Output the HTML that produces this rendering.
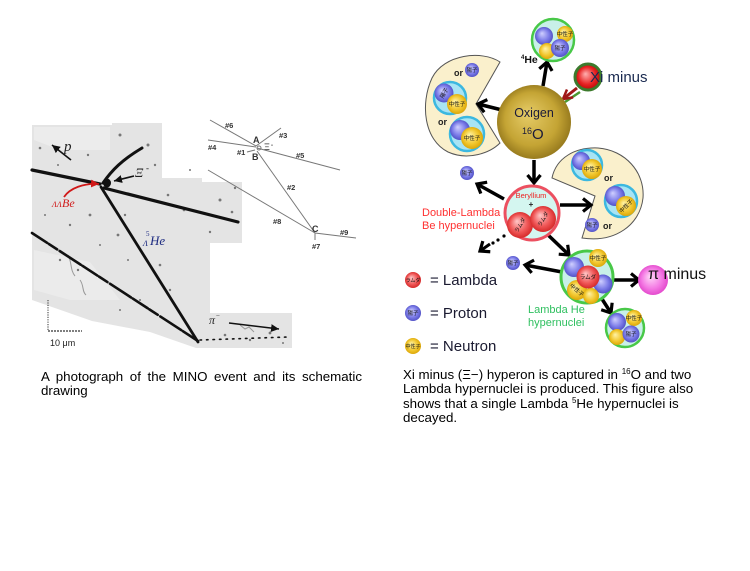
<!DOCTYPE html>
<html><head><meta charset="utf-8">
<style>
html,body{margin:0;padding:0;background:#fff;}
body{width:750px;height:571px;position:relative;overflow:hidden;font-family:"Liberation Sans",Arial,sans-serif;}
svg{position:absolute;left:0;top:0;}
.cap{position:absolute;font-size:13.33px;line-height:14.3px;color:#000;}
.cap sup{font-size:8px;line-height:0;vertical-align:5px;}
</style></head>
<body>
<svg width="750" height="571" viewBox="0 0 750 571" xmlns="http://www.w3.org/2000/svg">
<defs>
<radialGradient id="gP" cx="50%" cy="50%" r="55%" fx="38%" fy="35%"><stop offset="0" stop-color="#d0d0ff"/><stop offset="0.6" stop-color="#7c7ce8"/><stop offset="1" stop-color="#4a4ac0"/></radialGradient>
<radialGradient id="gN" cx="50%" cy="50%" r="55%" fx="38%" fy="35%"><stop offset="0" stop-color="#fff3a8"/><stop offset="0.6" stop-color="#f2c830"/><stop offset="1" stop-color="#d8a000"/></radialGradient>
<radialGradient id="gL" cx="50%" cy="50%" r="55%" fx="38%" fy="35%"><stop offset="0" stop-color="#ffc8c8"/><stop offset="0.6" stop-color="#f05858"/><stop offset="1" stop-color="#d02020"/></radialGradient>
<radialGradient id="gO" cx="50%" cy="50%" r="55%" fx="40%" fy="38%"><stop offset="0" stop-color="#e6cc68"/><stop offset="0.65" stop-color="#c4a434"/><stop offset="1" stop-color="#8c7018"/></radialGradient>
<radialGradient id="gPi" cx="50%" cy="50%" r="55%" fx="40%" fy="38%"><stop offset="0" stop-color="#ffd8f8"/><stop offset="0.6" stop-color="#f47ae4"/><stop offset="1" stop-color="#e040c8"/></radialGradient>
<radialGradient id="gXi" cx="50%" cy="50%" r="55%" fx="40%" fy="38%"><stop offset="0" stop-color="#ffb0b0"/><stop offset="0.6" stop-color="#e82424"/><stop offset="1" stop-color="#b00000"/></radialGradient>
<marker id="ah" markerUnits="userSpaceOnUse" markerWidth="16" markerHeight="16" refX="11" refY="8" orient="auto"><path d="M3,1.5 L11,8 L3,14.5" fill="none" stroke="#000" stroke-width="3.2"/></marker>
<marker id="th" markerUnits="userSpaceOnUse" markerWidth="10" markerHeight="8" refX="8" refY="4" orient="auto"><path d="M0,0 L8,4 L0,8 Z" fill="#111"/></marker>
<marker id="rh" markerUnits="userSpaceOnUse" markerWidth="10" markerHeight="8" refX="8" refY="4" orient="auto"><path d="M0,0 L8,4 L0,8 Z" fill="#d01818"/></marker>
<marker id="xh" markerUnits="userSpaceOnUse" markerWidth="12" markerHeight="12" refX="10" refY="6" orient="auto"><path d="M1,1 L10,6 L1,11" fill="none" stroke="#a01818" stroke-width="2.5"/></marker>
</defs>

<!-- ============ PHOTO ============ -->
<g>
<path d="M32,125 L112,125 L112,123 L162,123 L162,178 L202,178 L202,182 L242,182 L242,243 L210,243 L210,313 L292,313 L292,348 L196,348 L150,332 L92,321 L32,300 Z" fill="#e4e4e4"/>
<path d="M34,127 L110,127 L110,150 L60,150 L34,140 Z" fill="#ececec"/>
<path d="M34,250 L90,262 L120,300 L70,300 L34,290 Z" fill="#ebebeb"/>
<g fill="#777">
<circle cx="40" cy="148" r="1.3"/><circle cx="58" cy="165" r="1"/><circle cx="88" cy="155" r="1.2"/><circle cx="120" cy="135" r="1.5"/><circle cx="148" cy="145" r="1.5"/><circle cx="155" cy="165" r="1.2"/><circle cx="168" cy="195" r="1.3"/><circle cx="150" cy="200" r="1"/><circle cx="184" cy="210" r="1.3"/><circle cx="220" cy="200" r="1.5"/><circle cx="235" cy="188" r="1.2"/><circle cx="232" cy="212" r="1.3"/><circle cx="90" cy="215" r="1.4"/><circle cx="70" cy="225" r="1.2"/><circle cx="45" cy="215" r="1"/><circle cx="125" cy="215" r="1.2"/><circle cx="118" cy="235" r="1.4"/><circle cx="100" cy="245" r="1"/><circle cx="60" cy="260" r="1.2"/><circle cx="78" cy="270" r="1.2"/><circle cx="128" cy="260" r="1"/><circle cx="160" cy="265" r="1.3"/><circle cx="170" cy="290" r="1.2"/><circle cx="140" cy="300" r="1"/><circle cx="120" cy="310" r="1"/><circle cx="225" cy="335" r="1.3"/><circle cx="250" cy="340" r="1.2"/><circle cx="270" cy="333" r="1.4"/><circle cx="283" cy="343" r="1"/><circle cx="190" cy="170" r="1"/><circle cx="210" cy="232" r="1.2"/>
</g>
<g fill="none" stroke="#999" stroke-width="1">
<path d="M68,255 C72,262 70,270 75,276"/><path d="M80,280 C84,285 82,292 86,295"/><path d="M240,325 l5,4 l4,-2 l5,5"/>
</g>
<!-- tracks -->
<g fill="none" stroke="#111" stroke-linecap="round">
<path d="M32,170 L100,184" stroke-width="3.2"/>
<path d="M104,188 L238,222" stroke-width="3.2"/>
<path d="M103,183 C112,170 122,160 142,148" stroke-width="3"/>
<path d="M101,187 L198,342" stroke-width="2.8"/>
<path d="M32,233 L198,341" stroke-width="2.6" stroke-dasharray="18,2,10,3,25,2"/>
<path d="M200,340 L288,337" stroke-width="1.6" stroke-dasharray="1.5,5"/>
</g>
<ellipse cx="107" cy="183" rx="4" ry="4.5" fill="#111"/>
<line x1="71" y1="160" x2="52" y2="145" stroke="#111" stroke-width="1.6" marker-end="url(#th)"/>
<line x1="134" y1="176" x2="114" y2="181" stroke="#111" stroke-width="1.6" marker-end="url(#th)"/>
<line x1="229" y1="323" x2="279" y2="329" stroke="#111" stroke-width="1.6" marker-end="url(#th)"/>
<path d="M64,197 C70,188 84,183 99,184" fill="none" stroke="#d01818" stroke-width="1.8" marker-end="url(#rh)"/>
<text x="64" y="151" font-family="Liberation Serif,serif" font-style="italic" font-size="15" fill="#222">p</text>
<text x="135" y="177" font-family="Liberation Serif,serif" font-style="italic" font-size="13" fill="#222">Ξ</text>
<text x="146" y="171" font-family="Liberation Serif,serif" font-size="9" fill="#222">-</text>
<text x="52" y="207" font-family="Liberation Serif,serif" font-style="italic" font-size="8" fill="#d01818">ΛΛ</text>
<text x="62" y="207" font-family="Liberation Serif,serif" font-style="italic" font-size="12" fill="#d01818">Be</text>
<text x="146" y="236" font-family="Liberation Serif,serif" font-size="7" fill="#1c2a80">5</text>
<text x="143" y="246" font-family="Liberation Serif,serif" font-style="italic" font-size="8" fill="#1c2a80">Λ</text>
<text x="150" y="245" font-family="Liberation Serif,serif" font-style="italic" font-size="13" fill="#1c2a80">He</text>
<text x="209" y="324" font-family="Liberation Serif,serif" font-style="italic" font-size="12" fill="#222">π</text>
<text x="216" y="318" font-family="Liberation Serif,serif" font-size="7" fill="#222">−</text>
<!-- scale bar -->
<line x1="48" y1="300" x2="48" y2="331" stroke="#333" stroke-width="1" stroke-dasharray="1.2,1.2"/>
<line x1="48" y1="331" x2="82" y2="331" stroke="#333" stroke-width="1.2" stroke-dasharray="2,1"/>
<text x="50" y="346" font-size="9" font-family="Liberation Sans,sans-serif" fill="#222">10 μm</text>
</g>

<!-- ============ SCHEMATIC ============ -->
<g stroke="#777" stroke-width="1" fill="none">
<line x1="210" y1="120" x2="256" y2="146"/>
<line x1="208" y1="140" x2="256" y2="147"/>
<line x1="256" y1="146" x2="281" y2="128"/>
<line x1="257" y1="148" x2="340" y2="170"/>
<line x1="247" y1="152" x2="255" y2="150"/>
<line x1="257" y1="151" x2="315" y2="233"/>
<line x1="208" y1="170" x2="315" y2="233"/>
<line x1="315" y1="233" x2="356" y2="238"/>
<line x1="315" y1="233" x2="315" y2="240"/>
<circle cx="259" cy="148" r="2"/>
</g>
<g font-family="Liberation Sans,sans-serif" font-size="7.5" font-weight="bold" fill="#333">
<text x="225" y="128">#6</text>
<text x="208" y="150">#4</text>
<text x="253" y="143" font-size="9">A</text>
<text x="279" y="138">#3</text>
<text x="237" y="155">#1</text>
<text x="252" y="160" font-size="9">B</text>
<text x="264" y="150" font-weight="normal" font-size="9">Ξ</text>
<text x="271" y="147" font-size="6">-</text>
<text x="296" y="158">#5</text>
<text x="287" y="190">#2</text>
<text x="273" y="224">#8</text>
<text x="312" y="232" font-size="9">C</text>
<text x="340" y="235">#9</text>
<text x="312" y="249">#7</text>
</g>

<!-- ============ RIGHT DIAGRAM ============ -->
<!-- pac-men -->
<path d="M476,104 L500,62 C482,50 444,54 432,78 C420,104 424,140 448,152 C468,161 490,153 500,143 Z" fill="#faf0cc" stroke="#555" stroke-width="1"/>
<path d="M595,196 L552,178 C556,158 575,147 598,148 C625,150 645,172 643,198 C640,225 615,243 582,238 Z" fill="#faf0cc" stroke="#555" stroke-width="1"/>

<!-- arrows -->
<g stroke="#000" stroke-width="3.5" fill="none" marker-end="url(#ah)">
<line x1="543" y1="86" x2="547" y2="62"/>
<line x1="502" y1="110" x2="478" y2="104"/>
<line x1="534" y1="160" x2="534" y2="183"/>
<line x1="504" y1="199" x2="477" y2="184"/>
<line x1="560" y1="205" x2="591" y2="205"/>
<line x1="547" y1="234" x2="569" y2="255"/>
<line x1="562" y1="272" x2="525" y2="265"/>
<line x1="614" y1="280" x2="639" y2="280"/>
<line x1="602" y1="299" x2="611" y2="313"/>
<line x1="490" y1="244" x2="480" y2="251" stroke-width="3"/>
</g>
<g fill="#000"><circle cx="504" cy="236" r="1.6"/><circle cx="498" cy="240" r="1.6"/><circle cx="493" cy="243" r="1.6"/></g>
<!-- xi arrow -->
<line x1="580" y1="92" x2="565" y2="102" stroke="#4a9a30" stroke-width="2.5"/>
<line x1="577" y1="88" x2="563" y2="99" stroke="#a01818" stroke-width="3" marker-end="url(#xh)"/>

<!-- Oxygen -->
<circle cx="534" cy="122" r="37" fill="url(#gO)"/>
<text x="534" y="117" text-anchor="middle" font-size="12.5" fill="#1a1a3a">Oxigen</text>
<text x="522" y="134" font-size="9" fill="#1a1a3a">16</text>
<text x="532" y="139" font-size="15" fill="#1a1a3a">O</text>

<!-- Xi -->
<circle cx="588" cy="77" r="13" fill="url(#gXi)" stroke="#3c7a2c" stroke-width="3"/>
<text x="590" y="82" font-size="15" fill="#1a2a50">Xi minus</text>

<!-- He top -->
<circle cx="553" cy="40" r="21" fill="#c8f0e8" stroke="#48c848" stroke-width="2.5"/>
<circle cx="544" cy="36" r="9" fill="url(#gP)"/>
<circle cx="565" cy="34" r="8" fill="url(#gN)"/>
<circle cx="547" cy="51" r="8" fill="url(#gN)"/>
<circle cx="560" cy="48" r="9" fill="url(#gP)"/>
<text x="521" y="63" font-size="10.5" font-weight="bold" fill="#111"><tspan font-size="6" dy="-4">4</tspan><tspan dy="4">He</tspan></text>

<!-- left pacman contents -->
<g font-size="9" font-weight="bold" fill="#222"><text x="454" y="76">or</text><text x="438" y="125">or</text></g>
<circle cx="472" cy="70" r="7" fill="url(#gP)"/>
<circle cx="450" cy="98" r="16" fill="#a8e4f4" stroke="#3cb8e0" stroke-width="2.5"/>
<circle cx="444" cy="93" r="9.5" fill="url(#gP)"/>
<circle cx="457" cy="104" r="10" fill="url(#gN)"/>
<circle cx="467" cy="134" r="17" fill="#a8e4f4" stroke="#3cb8e0" stroke-width="2.5"/>
<circle cx="460" cy="130" r="10" fill="url(#gP)"/>
<circle cx="472" cy="138" r="11" fill="url(#gN)"/>

<!-- right pacman contents -->
<circle cx="587" cy="165" r="15" fill="#a8e4f4" stroke="#3cb8e0" stroke-width="2.5"/>
<circle cx="581" cy="161" r="9" fill="url(#gP)"/>
<circle cx="592" cy="169" r="10" fill="url(#gN)"/>
<circle cx="621" cy="201" r="16" fill="#a8e4f4" stroke="#3cb8e0" stroke-width="2.5"/>
<circle cx="615" cy="196" r="10" fill="url(#gP)"/>
<circle cx="626" cy="206" r="10" fill="url(#gN)"/>
<circle cx="592" cy="225" r="7" fill="url(#gP)"/>
<g font-size="9" font-weight="bold" fill="#222"><text x="604" y="181">or</text><text x="603" y="229">or</text></g>

<!-- Be -->
<circle cx="532" cy="213" r="27" fill="#d4f6f0" stroke="#ec5060" stroke-width="3"/>
<circle cx="520" cy="225" r="13" fill="url(#gL)"/>
<circle cx="543" cy="219" r="13" fill="url(#gL)"/>
<text x="531" y="198" text-anchor="middle" font-size="7.5" fill="#ee2020">Beryllium</text>
<text x="531" y="207" text-anchor="middle" font-size="8" font-weight="bold" fill="#222">+</text>
<g font-size="11" fill="#ff3030"><text x="422" y="216">Double-Lambda</text><text x="422" y="229">Be hypernuclei</text></g>

<!-- protons -->
<circle cx="467" cy="173" r="7" fill="url(#gP)"/>
<circle cx="513" cy="263" r="7" fill="url(#gP)"/>

<!-- Lambda He -->
<circle cx="587" cy="277" r="26" fill="#c8f0e8" stroke="#48c848" stroke-width="3"/>
<circle cx="598" cy="258" r="9" fill="url(#gN)"/>
<circle cx="574" cy="267" r="10" fill="url(#gP)"/>
<circle cx="603" cy="284" r="9.5" fill="url(#gP)"/>
<circle cx="577" cy="290" r="10" fill="url(#gN)"/>
<circle cx="591" cy="296" r="8" fill="url(#gN)"/>
<circle cx="588" cy="277" r="11.5" fill="url(#gL)"/>
<g font-size="11" fill="#30c060"><text x="528" y="313">Lambda He</text><text x="528" y="326">hypernuclei</text></g>

<!-- pi minus -->
<circle cx="653" cy="280" r="15" fill="url(#gPi)"/>
<text x="648" y="279" font-size="16" fill="#111">π minus</text>

<!-- small He -->
<circle cx="625" cy="328" r="19" fill="#c8f0e8" stroke="#48c848" stroke-width="2.5"/>
<circle cx="617" cy="322" r="9" fill="url(#gP)"/>
<circle cx="634" cy="318" r="8" fill="url(#gN)"/>
<circle cx="617" cy="337" r="8" fill="url(#gN)"/>
<circle cx="631" cy="334" r="8.5" fill="url(#gP)"/>

<!-- legend -->
<circle cx="413" cy="280" r="8" fill="url(#gL)"/>
<circle cx="413" cy="313" r="8" fill="url(#gP)"/>
<circle cx="413" cy="346" r="8" fill="url(#gN)"/>
<g font-size="15" fill="#1a1a30"><text x="430" y="285">= Lambda</text><text x="430" y="318">= Proton</text><text x="430" y="351">= Neutron</text></g>

<!-- Japanese labels in balls -->
<g font-family="Noto Sans CJK JP,sans-serif" font-size="5.5" fill="#111" text-anchor="middle">
<text x="472" y="72">陽子</text>
<text x="467" y="175">陽子</text>
<text x="513" y="265">陽子</text>
<text x="592" y="227">陽子</text>
<text x="560" y="50">陽子</text>
<text x="444" y="95" transform="rotate(-60 444 93)">陽子</text>
<text x="457" y="106">中性子</text>
<text x="472" y="140">中性子</text>
<text x="592" y="171">中性子</text>
<text x="626" y="208" transform="rotate(-45 626 206)">中性子</text>
<text x="598" y="260">中性子</text>
<text x="577" y="292" transform="rotate(40 577 290)">中性子</text>
<text x="588" y="279">ラムダ</text>
<text x="520" y="227" transform="rotate(-60 520 225)">ラムダ</text>
<text x="543" y="221" transform="rotate(-60 543 219)">ラムダ</text>
<text x="413" y="282" font-size="5">ラムダ</text>
<text x="413" y="315">陽子</text>
<text x="413" y="348" font-size="5">中性子</text>
<text x="634" y="320">中性子</text>
<text x="631" y="336">陽子</text>
<text x="565" y="36">中性子</text>
</g>
</svg>

<div class="cap" style="left:41px;top:370px;width:321px;text-align:justify;">A photograph of the MINO event and its schematic drawing</div>
<div class="cap" style="left:403px;top:368px;white-space:nowrap;">Xi minus (Ξ−) hyperon is captured in <sup>16</sup>O and two<br>Lambda hypernuclei is produced. This figure also<br>shows that a single Lambda <sup>5</sup>He hypernuclei is<br>decayed.</div>
</body></html>
